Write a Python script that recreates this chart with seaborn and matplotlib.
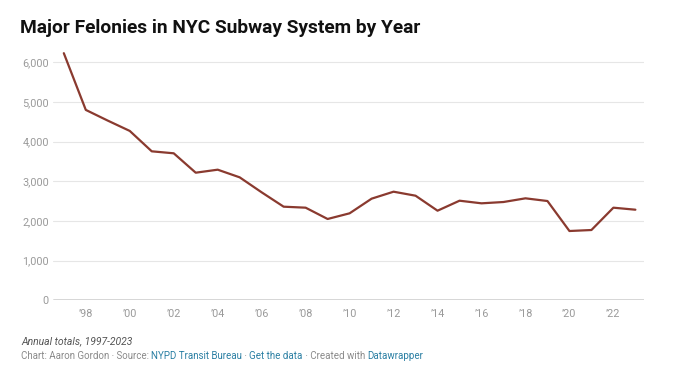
import matplotlib
matplotlib.use("Agg")
import matplotlib.pyplot as plt
import seaborn as sns
import pandas as pd

years = list(range(1997, 2024))
felonies = [6230, 4800, 4530, 4270, 3756, 3706, 3217, 3293, 3100, 2722,
            2360, 2335, 2050, 2193, 2562, 2738, 2637, 2259, 2511, 2445,
            2478, 2571, 2503, 1747, 1772, 2335, 2284]
xtick_years = list(range(1998, 2023, 2))
xtick_labels = ["\u2019" + str(y)[2:] for y in xtick_years]
ytick_values = [0, 1000, 2000, 3000, 4000, 5000, 6000]
ytick_labels = ["0", "1,000", "2,000", "3,000", "4,000", "5,000", "6,000"]

title = "Major Felonies in NYC Subway System by Year"
subtitle = "Annual totals, 1997-2023"
footer_parts = [("Chart: Aaron Gordon \u00b7 Source: ", "#8a8a8a"),
                ("NYPD Transit Bureau", "#2a7fa3"),
                (" \u00b7 ", "#8a8a8a"),
                ("Get the data", "#2a7fa3"),
                (" \u00b7 Created with ", "#8a8a8a"),
                ("Datawrapper", "#2a7fa3")]

df = pd.DataFrame({"year": years, "felonies": felonies})

sns.set_theme(style="white")
plt.rcParams["font.family"] = ["Roboto", "DejaVu Sans"]

fig = plt.figure(figsize=(6.8, 3.81), dpi=100)
ax = fig.add_axes([0.078, 0.2118, 0.869, 0.6559])

sns.lineplot(data=df, x="year", y="felonies", ax=ax, color="#8a3a2f", linewidth=1.6)

ax.set_xlim(1996.51, 2023.39)
ax.set_ylim(0, 6300)
ax.set_yticks(ytick_values)
ax.set_yticklabels(ytick_labels)
ax.set_xticks(xtick_years)
ax.set_xticklabels(xtick_labels)
ax.set_xlabel("")
ax.set_ylabel("")
for v in ytick_values[1:]:
    ax.axhline(v, color="#e6e6e6", linewidth=0.8, zorder=0)
ax.axhline(0, color="#333333", linewidth=1.0, zorder=3)
for s in ax.spines.values():
    s.set_visible(False)
ax.tick_params(axis="both", length=0, labelsize=7.8, labelcolor="#9a9a9a")
ax.tick_params(axis="y", pad=3)
ax.tick_params(axis="x", pad=6)

fig.text(20 / 680, 1 - 28 / 381, title, fontsize=13.8, fontweight="bold",
         color="#111111", va="center", ha="left")
fig.text(21 / 680, 1 - 341 / 381, subtitle, fontsize=7.5, style="italic",
         color="#555555", va="center", ha="left")

fig.canvas.draw()
renderer = fig.canvas.get_renderer()
x = 21
for txt, col in footer_parts:
    t = fig.text(x / 680, 1 - 356 / 381, txt, fontsize=7, color=col,
                 va="center", ha="left")
    bb = t.get_window_extent(renderer=renderer)
    x += bb.width

fig.savefig("out.png", dpi=100, facecolor="white")
